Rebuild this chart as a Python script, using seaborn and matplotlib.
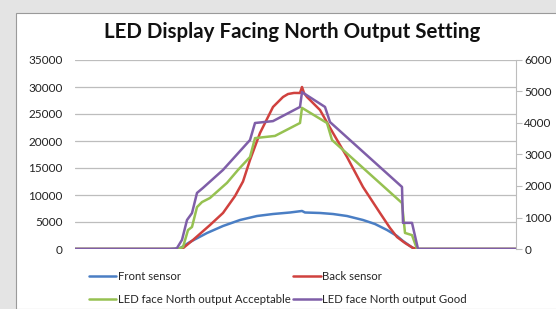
import pandas as pd
import matplotlib.pyplot as plt
import matplotlib.patches as mpatches
import seaborn as sns

# Sensor readings (left axis) and LED output settings (right axis), by sample
front_x = [0, 95, 105, 115, 132, 148, 165, 182, 198, 215, 227, 230, 245, 258, 272, 288, 300, 312, 322, 328, 335, 338, 343, 441]
front_y = [0, 0, 150, 1300, 2960, 4260, 5370, 6110, 6480, 6760, 7040, 6760, 6670, 6480, 6110, 5370, 4630, 3520, 2410, 1480, 560, 190, 0, 0]

back_x = [0, 103, 108, 118, 135, 148, 160, 168, 175, 185, 198, 208, 213, 219, 225, 227, 229, 232, 245, 258, 272, 288, 305, 315, 322, 330, 338, 343, 441]
back_y = [0, 0, 150, 1670, 4440, 6670, 9800, 12500, 16480, 21480, 26300, 28150, 28700, 28900, 28890, 30000, 28890, 28150, 25740, 21480, 17040, 11480, 6670, 3890, 2220, 1110, 190, 0, 0]

acceptable_x = [0, 100, 105, 108, 113, 117, 122, 127, 135, 152, 163, 175, 180, 200, 225, 227, 252, 257, 327, 330, 337, 342, 441]
acceptable_y = [0, 0, 30, 60, 600, 700, 1330, 1490, 1620, 2100, 2510, 2920, 3520, 3590, 4000, 4480, 4000, 3460, 1460, 510, 440, 0, 0]

good_x = [0, 100, 102, 107, 112, 117, 122, 128, 148, 175, 180, 198, 225, 227, 250, 255, 327, 328, 337, 343, 441]
good_y = [0, 0, 30, 290, 920, 1140, 1780, 1940, 2510, 3460, 4000, 4060, 4510, 4980, 4510, 4030, 1970, 830, 830, 0, 0]

front = pd.DataFrame({'sample': front_x, 'value': front_y})
back = pd.DataFrame({'sample': back_x, 'value': back_y})
acceptable = pd.DataFrame({'sample': acceptable_x, 'value': acceptable_y})
good = pd.DataFrame({'sample': good_x, 'value': good_y})

sns.set_style('white')
plt.rcParams['font.family'] = ['Lato', 'DejaVu Sans']

fig = plt.figure(figsize=(5.56, 3.09), dpi=100)
fig.patch.set_facecolor('#E4E4E4')
# white chart area
fig.patches.append(mpatches.Rectangle((16 / 556, 0), 1, (309 - 13) / 309, transform=fig.transFigure,
                                      facecolor='white', edgecolor='#9A9A9A', linewidth=0.8, zorder=-10))

ax = fig.add_axes([75 / 556, 60 / 309, 441 / 556, 189 / 309])
ax2 = ax.twinx()

sns.lineplot(data=front, x='sample', y='value', ax=ax, color='#4A7EC4', linewidth=1.8, label='Front sensor')
sns.lineplot(data=back, x='sample', y='value', ax=ax, color='#D0413E', linewidth=1.8, label='Back sensor')
sns.lineplot(data=acceptable, x='sample', y='value', ax=ax2, color='#96C151', linewidth=1.8, label='LED face North output Acceptable')
sns.lineplot(data=good, x='sample', y='value', ax=ax2, color='#7F5EA8', linewidth=1.8, label='LED face North output Good')

ax.set_xlim(0, 441)
ax.set_ylim(0, 35000)
ax2.set_ylim(0, 6000)
ax.set_yticks(range(0, 35001, 5000))
ax2.set_yticks(range(0, 6001, 1000))
ax.set_xticks([])
ax.set_xlabel('')
ax.set_ylabel('')
ax2.set_ylabel('')
ax.patch.set_alpha(0)
ax2.patch.set_alpha(0)

ax.grid(axis='y', color='#BDBDBD', linewidth=0.9)
ax.set_axisbelow(True)
for a in (ax, ax2):
    for s in a.spines.values():
        s.set_visible(False)
ax2.spines['right'].set_visible(True)
ax2.spines['right'].set_color('#BDBDBD')
ax.tick_params(axis='y', length=0, labelsize=8.5, pad=9, colors='#222222')
ax2.tick_params(axis='y', length=4, color='#BDBDBD', labelsize=8.5, pad=2, labelcolor='#222222', right=True)

h1, l1 = ax.get_legend_handles_labels()
h2, l2 = ax2.get_legend_handles_labels()
ax.get_legend().remove()
ax2.get_legend().remove()
handles = [h1[0], h2[0], h1[1], h2[1]]
labels = [l1[0], l2[0], l1[1], l2[1]]
fig.legend(handles, labels, ncol=2, loc='upper left', bbox_to_anchor=(84 / 556, 1 - 266 / 309),
           frameon=False, fontsize=8.2, handlelength=2.4, handletextpad=0.15, columnspacing=0.25,
           labelspacing=1.1, borderaxespad=0)

fig.suptitle('LED Display Facing North Output Setting', x=292 / 556, y=1 - 32 / 309, va='center',
             fontsize=14.8, fontweight='bold', color='#111111')

fig.savefig('out.png', dpi=100, facecolor=fig.get_facecolor())
